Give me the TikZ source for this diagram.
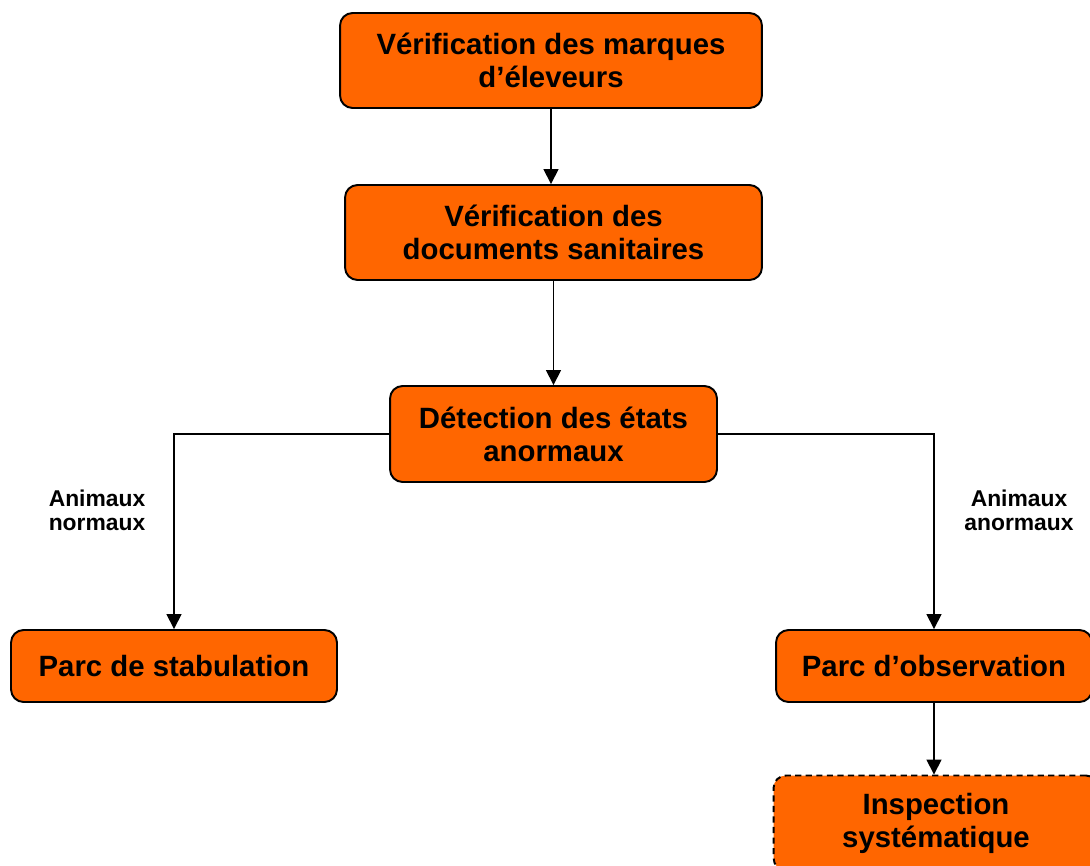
\documentclass[tikz,border=0pt]{standalone}
\usepackage{fontspec}
\setmainfont{Liberation Sans}
\usepackage{tikz}
\usetikzlibrary{arrows.meta}
\definecolor{orangebox}{HTML}{FF6600}

\begin{document}
\begin{tikzpicture}[x=0.02cm, y=-0.02cm,
    etape/.style={draw, line width=1.1pt, fill=orangebox, rounded corners=0.25cm,
      align=center, font=\fontsize{16.7}{18.7}\selectfont\bfseries, inner sep=0pt},
    fleche/.style={-{Triangle[width=8.5pt,length=8.5pt]}, line width=0.9pt},
    etiq/.style={align=center, font=\fontsize{13}{13.8}\selectfont\bfseries}]
    \useasboundingbox (0,0) rectangle (1090,866);
    \node[etape, minimum width=8.44cm, minimum height=1.9cm] (marques) at (551, 60.5)
      {V\'erification des marques\\d'\'eleveurs};
    \node[etape, minimum width=8.34cm, minimum height=1.9cm] (docs) at (553.5, 232.5)
      {V\'erification des\\documents sanitaires};
    \node[etape, minimum width=6.54cm, minimum height=1.92cm] (detect) at (553.5, 434)
      {D\'etection des \'etats\\anormaux};
    \node[etape, minimum width=6.52cm, minimum height=1.44cm] (stab) at (174, 666)
      {Parc de stabulation};
    \node[etape, minimum width=6.32cm, minimum height=1.44cm] (obs) at (934, 666)
      {Parc d'observation};
    \node[etape, dash pattern=on 3.5pt off 2.5pt, minimum width=6.5cm, minimum height=1.9cm] (insp) at (936, 823)
      {Inspection\\syst\'ematique};
    \node[etiq] (lnorm) at (97, 510) {Animaux\\normaux};
    \node[etiq] (lanorm) at (1019, 510) {Animaux\\anormaux};
    \draw[fleche] (marques) -- (marques |- docs.north);
    \draw[fleche] (docs) -- (docs |- detect.north);
    \draw[fleche] (detect.west) -| (stab.north);
    \draw[fleche] (detect.east) -| (obs.north);
    \draw[fleche] (obs) -- (obs |- insp.north);
\end{tikzpicture}
\end{document}
